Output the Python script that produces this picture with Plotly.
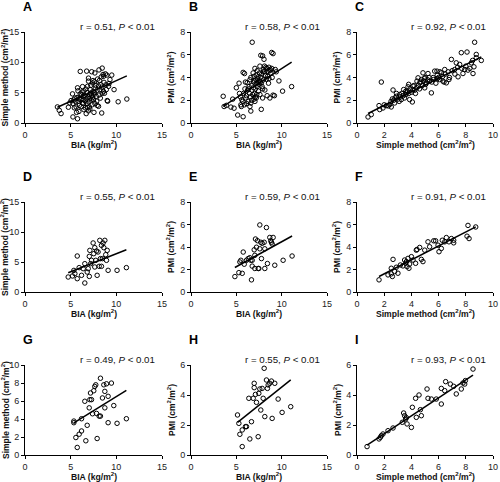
import plotly.graph_objects as go
import numpy as np

# ---------------- data ----------------
# Panel A: BIA (kg/m2) vs Simple method (cm2/m2)
a_x = [3.55,3.75,3.95,4.75,4.9,5.05,5.2,5.25,5.25,5.4,5.35,5.45,
       5.6,5.65,5.75,5.75,5.8,5.85,5.9,5.95,5.7,5.55,5.9,
       6.05,6.1,6.2,6.3,6.15,6.4,6.4,6.25,6.35,6.45,6.05,6.3,6.45,
       6.6,6.7,6.75,6.85,6.95,6.95,6.55,6.6,6.7,6.8,6.9,6.65,6.8,6.95,6.85,
       7.05,7.1,7.15,7.2,7.3,7.4,7.0,7.1,7.25,7.3,7.45,7.35,7.2,7.45,7.05,7.4,
       7.5,7.55,7.65,7.7,7.8,7.85,7.95,7.6,7.75,7.9,7.55,7.65,7.9,7.6,
       8.05,8.1,8.2,8.4,8.45,8.3,8.1,8.25,8.4,8.15,8.35,8.05,8.45,
       8.6,8.65,8.8,8.9,8.95,8.55,8.7,8.85,8.6,
       9.05,9.15,9.3,9.5,9.75,9.0,9.2,10.2,11.15]
a_y = [2.65,2.1,1.55,2.6,3.3,3.7,4.8,3.2,1.0,2.5,3.8,4.1,
       2.65,1.75,0.7,5.8,5.3,3.6,4.0,2.9,4.2,3.5,1.9,
       8.5,3.85,4.65,3.3,2.7,3.85,3.2,5.1,4.4,2.2,4.8,6.0,5.3,
       2.5,1.55,8.55,6.05,6.9,7.4,4.5,3.6,4.0,5.0,4.3,5.6,3.2,2.0,2.6,
       2.65,2.3,5.5,4.95,8.45,6.6,3.5,4.1,3.8,4.5,5.2,3.0,6.2,7.0,4.7,4.2,
       3.85,1.75,8.25,5.75,4.4,3.6,7.25,5.0,6.2,5.4,4.7,3.2,2.9,6.8,
       2.75,8.75,5.5,1.65,9.05,6.3,4.6,4.1,5.9,7.0,7.6,6.1,4.9,
       7.7,6.7,8.1,5.5,7.9,8.0,4.9,6.3,5.2,
       3.6,6.05,7.15,7.9,5.5,3.7,6.5,3.5,3.95]

# Panel B: BIA vs PMI
b_x = [3.55,3.65,3.9,4.4,4.6,4.75,5.0,5.15,5.3,5.35,5.5,5.6,5.55,5.75,5.75,5.9,5.8,5.95,
       6.0,6.1,6.2,6.25,6.3,6.4,6.45,6.5,6.5,6.6,6.6,6.7,6.75,6.8,6.85,6.9,6.95,
       7.0,7.05,7.1,7.1,7.2,7.2,7.25,7.3,7.35,7.4,7.45,7.5,7.55,7.6,7.65,7.7,7.75,
       7.8,7.85,7.9,7.95,8.0,8.05,8.1,8.15,8.2,8.3,8.35,8.4,8.5,8.55,8.6,8.7,8.75,
       8.8,8.9,8.95,9.05,9.05,9.2,9.3,9.7,10.1,11.1,
       6.35,6.55,6.7,6.9,7.0,7.15,7.3,7.45,7.6,7.7,7.9,8.1,8.25,8.45,8.6,8.9,
       5.7,5.9,6.15,6.6,7.05,7.25,7.9,5.45,6.05,8.7,9.4,7.55,7.75,6.95,8.0]
b_y = [2.35,1.45,1.55,1.4,2.1,1.3,3.1,0.7,3.5,2.6,1.6,2.05,1.45,0.55,4.45,4.35,2.6,3.0,
       3.6,2.4,3.55,2.9,1.9,3.2,2.6,1.45,3.8,1.05,4.0,3.3,7.1,2.5,4.4,3.6,2.1,
       3.7,4.8,3.0,2.3,4.2,2.2,3.5,4.6,3.9,4.05,2.8,3.4,4.4,5.0,3.6,5.95,1.2,
       4.3,3.2,5.9,4.5,3.8,5.6,5.0,2.9,4.2,3.85,4.8,2.4,4.55,3.5,4.9,2.2,4.7,
       4.4,6.2,4.0,6.1,2.45,2.4,4.7,3.7,2.8,3.2,
       3.0,2.3,2.0,3.1,2.6,3.8,3.2,3.6,2.5,4.0,3.0,4.5,4.9,4.1,3.9,4.8,
       1.9,1.6,1.7,1.75,1.9,2.5,2.2,2.3,2.2,4.6,4.5,3.7,3.5,4.1,4.7]

# Panel C: Simple method vs PMI
c_x = [0.81,1.05,1.79,1.67,1.62,1.91,2.16,2.4,2.52,2.6,2.65,2.77,2.89,3.14,3.26,3.43,3.58,
       3.63,3.75,3.87,4.07,4.12,4.24,4.41,4.49,4.61,4.73,4.85,4.98,5.1,5.22,5.34,5.47,
       5.64,5.71,5.88,6.08,6.2,6.32,6.45,6.57,6.76,6.94,7.18,7.3,7.43,7.55,7.67,7.79,
       7.92,8.09,8.16,8.41,8.53,8.6,8.65,8.77,8.77,9.14,
       2.3,2.5,2.7,2.8,3.0,3.1,3.2,3.3,3.4,3.5,3.6,3.7,3.8,3.9,4.0,4.1,4.2,4.3,4.4,
       4.5,4.6,4.7,4.8,4.9,5.0,5.05,5.2,5.3,5.5,5.6,5.8,5.9,6.0,6.1,6.3,6.4,6.5,6.7,
       6.8,7.0,7.2,7.4,7.7,8.0,8.3,8.5,2.0,2.9,3.8,4.95,5.9]
c_y = [0.53,0.74,3.6,1.18,1.53,1.32,1.53,1.62,1.41,2.12,2.9,1.76,2.35,2.5,2.06,2.94,2.79,
       2.65,3.18,2.06,1.85,3.24,2.88,3.68,3.97,3.53,3.82,4.41,3.09,3.53,4.35,3.68,2.65,
       3.82,4.56,4.56,3.82,4.41,3.68,4.7,3.53,3.82,5.59,4.7,5.29,4.06,5.15,6.18,4.35,
       4.7,6.24,4.65,5.29,4.35,4.94,7.1,6.03,5.74,5.5,
       1.5,1.9,2.0,2.2,2.1,1.9,2.3,2.6,2.4,2.2,2.5,2.8,2.6,3.0,2.7,2.9,3.3,2.6,3.1,
       3.3,3.0,3.6,3.3,3.7,4.0,3.4,3.8,4.0,3.6,4.0,3.5,4.2,4.0,4.5,4.1,3.6,4.3,4.5,
       4.0,4.6,4.3,4.9,4.8,5.0,4.8,5.5,1.6,2.6,3.4,3.9,3.9]

# Panel D: BIA vs Simple method
d_x = [4.73,5.2,5.35,5.46,5.72,5.72,5.93,6.19,6.37,6.55,6.55,6.81,6.92,7.04,7.1,7.04,7.19,
       7.28,7.46,7.53,7.64,7.75,7.83,7.9,8.0,8.12,8.19,8.37,8.48,8.55,8.63,8.74,8.84,
       8.92,9.0,9.1,10.08,11.1,8.26,7.64,8.37]
d_y = [2.5,2.67,3.6,3.06,6.0,2.22,4.06,2.78,3.89,4.72,1.5,3.33,3.89,5.94,6.94,2.6,4.72,
       5.28,8.17,6.39,7.39,5.28,6.83,2.78,6.67,4.28,8.61,7.78,5.56,8.17,7.39,8.61,6.22,
       5.28,6.94,3.61,3.61,4.06,5.56,4.17,4.28]

# Panel E: BIA vs PMI
e_x = [4.84,5.28,5.39,5.5,5.65,5.76,5.87,6.12,6.31,6.49,6.6,6.67,6.75,6.97,7.04,7.11,7.22,
       7.33,7.41,7.59,7.59,7.7,7.77,7.85,8.07,8.14,8.14,8.32,8.43,8.69,8.8,8.87,8.95,
       9.06,9.24,10.16,11.15,7.04,6.75,7.48]
e_y = [1.37,1.72,2.67,2.82,1.66,3.55,2.47,2.82,2.97,3.05,2.82,1.08,2.3,3.75,2.09,4.71,3.98,
       4.56,2.09,5.96,3.84,4.42,2.97,4.33,4.42,2.09,3.84,5.73,2.53,4.85,4.56,4.42,4.27,
       4.85,2.38,2.82,3.2,3.26,2.82,2.09]

# Panel F: Simple method vs PMI
f_x = [1.62,2.28,2.52,2.52,2.6,2.65,2.77,2.89,3.01,3.19,3.38,3.5,3.58,3.68,3.75,3.82,3.87,
       4.0,4.12,4.31,4.36,4.41,4.61,4.73,4.85,4.98,5.22,5.64,5.78,5.96,6.03,6.2,6.27,
       6.45,6.57,6.76,6.94,7.11,7.11,8.09,8.16,8.24,8.73,5.34,3.63]
f_y = [1.08,1.52,1.61,2.11,1.38,2.9,1.82,2.2,1.67,2.4,2.32,2.84,2.55,2.26,2.99,2.11,2.49,
       3.14,2.84,2.55,3.72,3.78,3.96,2.9,2.7,3.72,4.46,4.55,4.55,4.16,3.58,3.87,4.6,
       4.46,4.84,4.46,4.75,4.6,4.37,4.96,5.92,4.75,5.78,4.02,2.7]

# Panel G: BIA vs Simple method
g_x = [5.35,5.35,5.57,5.72,5.93,6.19,6.19,6.55,6.66,6.81,7.03,7.1,7.17,7.28,7.39,7.53,7.64,
       7.75,7.83,7.9,8.12,8.26,8.26,8.48,8.63,8.74,8.74,8.92,9.1,9.1,9.46,9.72,10.08,11.1]
g_y = [3.77,3.59,1.94,0.84,2.31,4.03,2.67,5.97,1.58,3.3,5.24,6.15,6.89,6.15,4.58,7.14,7.62,
       7.8,4.62,1.83,4.32,4.32,8.53,6.34,7.8,5.24,7.07,7.91,6.52,3.59,7.99,5.49,3.52,4.03]

# Panel H: BIA vs PMI
h_x = [5.13,5.28,5.39,5.65,5.65,6.01,6.12,6.38,6.49,6.67,6.86,6.97,6.97,7.11,7.22,7.41,7.48,
       7.59,7.7,7.85,7.96,8.07,8.14,8.32,8.43,8.51,8.69,8.87,8.95,9.24,9.61,10.05,11.0]
h_y = [2.67,2.11,1.38,1.67,0.56,1.89,1.89,3.78,1.07,2.22,3.78,4.78,4.49,4.04,3.51,1.22,4.11,
       4.4,3.0,4.44,3.78,5.78,2.56,5.0,4.44,4.67,4.78,4.93,2.44,4.78,3.73,2.84,3.22]

# Panel I: Simple method vs PMI
i_x = [0.74,1.62,1.72,1.79,1.91,2.28,2.65,3.33,3.43,3.5,3.58,3.63,3.68,4.07,4.0,4.31,4.36,
       4.56,4.66,4.73,5.15,5.22,5.47,5.83,6.2,6.2,6.45,6.52,6.86,7.11,7.3,7.67,7.79,7.92,
       7.97,8.53]
i_y = [0.56,1.07,1.18,1.29,1.4,1.62,1.8,2.18,2.8,2.62,2.4,2.49,2.07,3.18,1.84,3.78,2.51,
       4.0,3.02,2.62,4.4,3.78,3.73,3.73,3.4,4.44,4.29,4.89,4.73,4.58,4.07,4.4,4.8,4.73,
       4.96,5.73]

# regression lines (slope, intercept)
fit_slope = [0.68, 0.514, 0.598, 0.60, 0.444, 0.62, 0.627, 0.483, 0.60]
fit_icpt = [0.19, -0.36, 0.35, 0.38, 0.03, 0.37, 0.22, -0.30, 0.21]

letters = ["A", "B", "C", "D", "E", "F", "G", "H", "I"]
r_values = ["0.51", "0.58", "0.92", "0.55", "0.59", "0.91", "0.49", "0.55", "0.93"]

xs = [a_x, b_x, c_x, d_x, e_x, f_x, g_x, h_x, i_x]
ys = [a_y, b_y, c_y, d_y, e_y, f_y, g_y, h_y, i_y]

BIA_T = "BIA (kg/m<sup>2</sup>)"
SIM_T = "Simple method (cm<sup>2</sup>/m<sup>2</sup>)"
PMI_T = "PMI (cm<sup>2</sup>/m<sup>2</sup>)"
x_titles = [BIA_T, BIA_T, SIM_T] * 3
y_titles = [SIM_T, PMI_T, PMI_T] * 3
x_ranges = [15, 15, 10] * 3
x_dticks = [5, 5, 2] * 3
y_ranges = [15, 8, 8, 15, 8, 8, 10, 6, 6]
y_dticks = [5, 2, 2, 5, 2, 2, 2, 2, 2]

# ---------------- layout geometry (pixels) ----------------
W, H = 500, 482
col_x = [(25, 162), (191, 327), (357, 493)]
row_y = [(32, 123), (202, 292), (365, 455)]
row_title_gap = [21.5, 21.5, 21.5]

FONT = "Liberation Sans, Arial, Helvetica, sans-serif"

fig = go.Figure()
layout = dict(
    width=W, height=H, margin=dict(l=0, r=0, t=0, b=0),
    paper_bgcolor="white", plot_bgcolor="white", showlegend=False,
    font=dict(family=FONT, color="#111"),
)
annotations = []

def px_x(p):
    return p / W

def px_y(p):
    return 1 - p / H

for k in range(9):
    r, c = divmod(k, 3)
    x0, x1 = col_x[c]
    yt, yb = row_y[r]
    sfx = "" if k == 0 else str(k + 1)
    xa = "xaxis" + sfx
    ya = "yaxis" + sfx
    axis_common = dict(
        showline=True, linecolor="black", linewidth=1,
        ticks="outside", ticklen=3, tickwidth=1, tickcolor="black",
        showgrid=False, zeroline=False, automargin=False,
        tickfont=dict(family=FONT, size=9, color="#222"),
        fixedrange=True,
    )
    layout[xa] = dict(axis_common, domain=[px_x(x0), px_x(x1)],
                      range=[0, x_ranges[k]], dtick=x_dticks[k], tick0=0,
                      anchor="y" + sfx)
    layout[ya] = dict(axis_common, domain=[px_y(yb), px_y(yt)],
                      range=[0, y_ranges[k]], dtick=y_dticks[k], tick0=0,
                      anchor="x" + sfx)

    xv = np.array(xs[k])
    yv = np.array(ys[k])
    fig.add_trace(go.Scatter(
        x=xv, y=yv, mode="markers", xaxis="x" + sfx, yaxis="y" + sfx,
        marker=dict(symbol="circle-open", size=4.5, color="black",
                    line=dict(width=1, color="black")),
        cliponaxis=False,
    ))
    lx = np.array([xv.min(), xv.max()])
    ly = fit_slope[k] * lx + fit_icpt[k]
    fig.add_trace(go.Scatter(
        x=lx, y=ly, mode="lines", xaxis="x" + sfx, yaxis="y" + sfx,
        line=dict(color="black", width=1.5),
    ))

    # panel letter
    annotations.append(dict(
        text="<b>%s</b>" % letters[k], x=px_x(x0 - 4), y=px_y(yt - 25),
        xref="paper", yref="paper", xanchor="left", yanchor="middle",
        showarrow=False, font=dict(family=FONT, size=12.5, color="black")))
    # r / P annotation
    annotations.append(dict(
        text="r = %s, <i>P</i> < 0.01" % r_values[k],
        x=px_x(x1 - 5), y=px_y(yt - 6), xref="paper", yref="paper",
        xanchor="right", yanchor="middle", showarrow=False,
        font=dict(family=FONT, size=9.7, color="#111")))
    # x title
    annotations.append(dict(
        text="<b>%s</b>" % x_titles[k], x=px_x((x0 + x1) / 2),
        y=px_y(yb + row_title_gap[r]),
        xref="paper", yref="paper", xanchor="center", yanchor="middle",
        showarrow=False, font=dict(family=FONT, size=8.6, color="#111")))
    # y title
    annotations.append(dict(
        text="<b>%s</b>" % y_titles[k], x=px_x(x0 - 20), y=px_y((yt + yb) / 2),
        xref="paper", yref="paper", xanchor="center", yanchor="middle",
        textangle=-90, showarrow=False,
        font=dict(family=FONT, size=8.5, color="#111")))

layout["annotations"] = annotations
fig.update_layout(**layout)
fig.write_html("out.html",
               config={"displayModeBar": False},
               post_script="document.body.style.margin='0';"
                           "document.body.style.overflow='hidden';")
